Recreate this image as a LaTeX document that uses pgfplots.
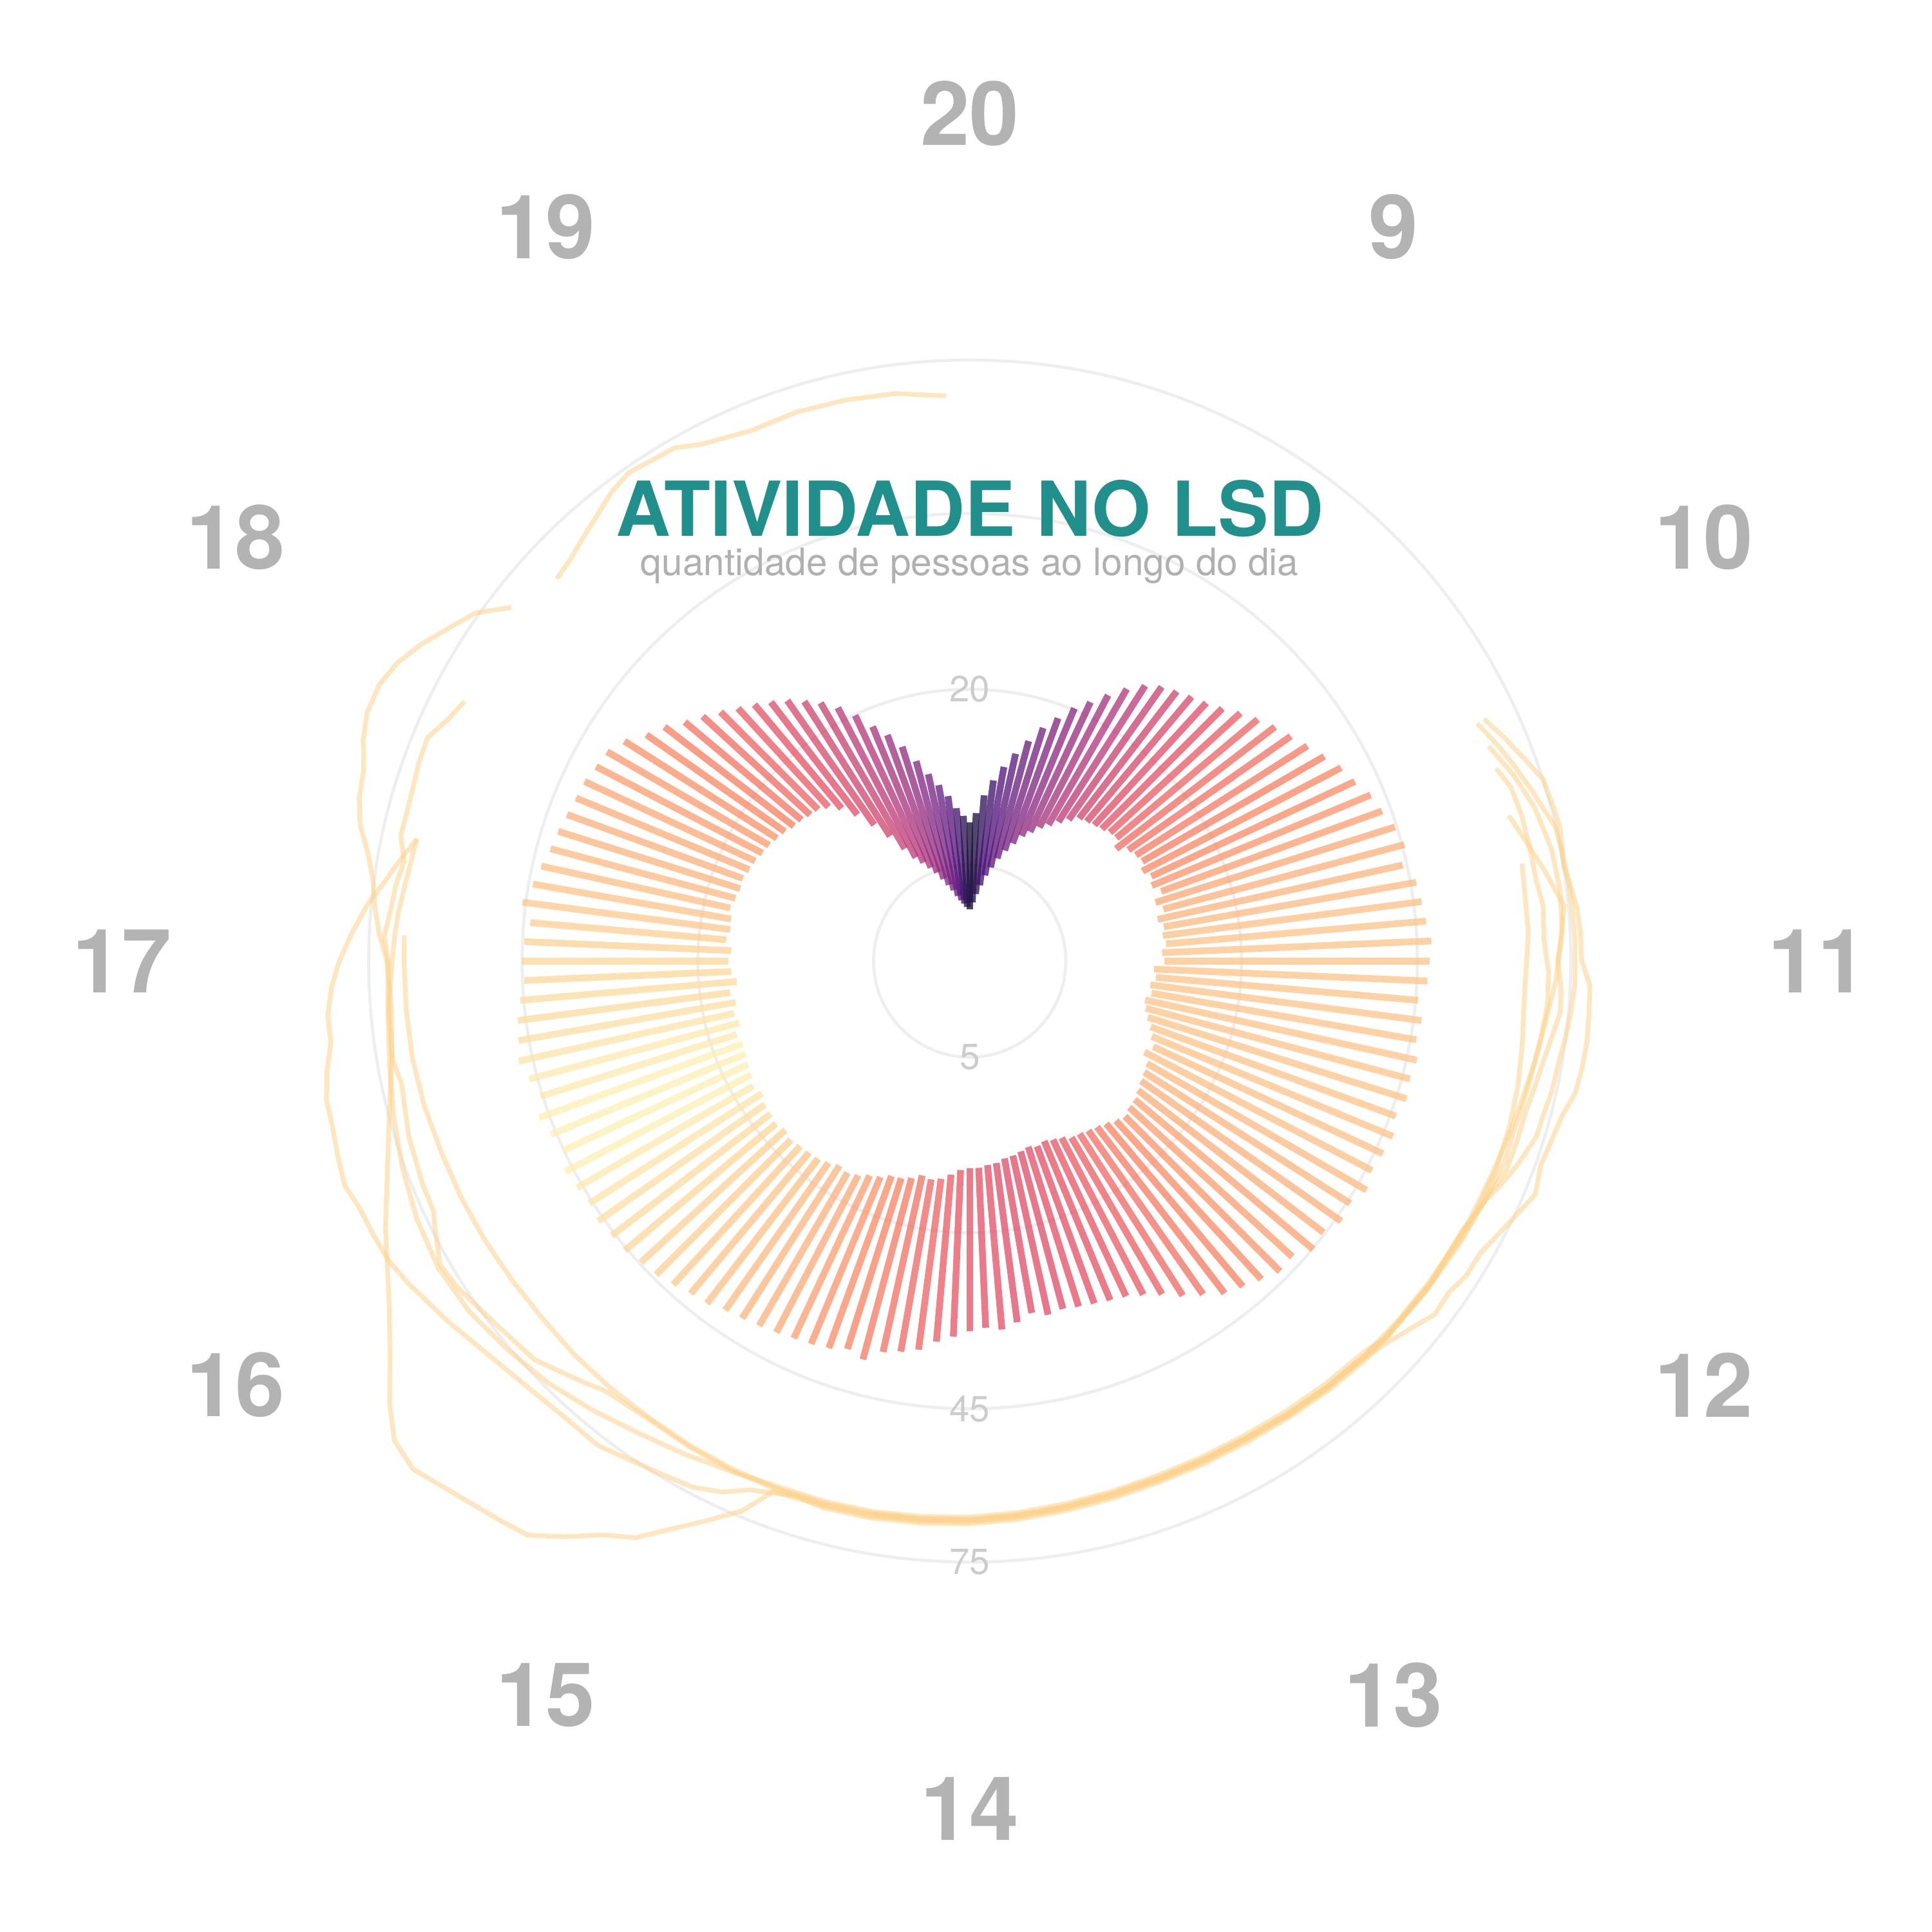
\documentclass[border=0pt]{standalone}
\usepackage{pgfplots}
\pgfplotsset{compat=1.18}
\usepackage{pgfplotstable}
\usepackage{fontspec}
\setmainfont{TeX Gyre Heros}
\definecolor{gridc}{RGB}{238,238,238}
\definecolor{hourc}{RGB}{179,179,179}
\definecolor{radc}{RGB}{204,204,204}
\definecolor{titlec}{RGB}{33,144,140}
\definecolor{subc}{RGB}{176,176,176}
\definecolor{linec}{RGB}{252,210,140}

% bars: t = minutes since midnight, lo/hi = range of people, c = colour value
\pgfplotstableread{
t lo hi c
480 2.8 7.7 0.08
485 3.1 8.4 0.12
490 3.5 9.8 0.17
495 3.95 11.1 0.21
500 4.5 12.4 0.25
505 5.0 13.8 0.28
510 5.6 15.3 0.31
515 6.2 17.0 0.34
520 6.8 18.5 0.37
525 7.5 20.2 0.40
530 8.0 21.6 0.43
535 8.6 23.3 0.46
540 9.1 25.1 0.49
545 9.7 26.7 0.52
550 10.3 27.8 0.55
555 10.9 28.5 0.57
560 11.1 29.2 0.59
565 11.3 29.9 0.61
570 11.5 30.9 0.63
575 11.8 32.3 0.65
580 11.9 33.6 0.67
585 11.3 34.9 0.69
590 12.1 36.0 0.70
595 12.4 37.3 0.72
600 12.6 38.7 0.73
605 12.2 40.2 0.75
610 12.7 41.2 0.76
615 12.4 42.7 0.78
620 13.0 43.5 0.80
625 12.2 44.7 0.82
630 12.7 45.4 0.84
635 12.0 44.3 0.85
640 12.4 46.0 0.86
645 12.2 46.4 0.87
650 12.4 46.8 0.88
655 12.0 47.5 0.88
660 12.2 47.1 0.88
665 11.3 46.8 0.88
670 11.5 45.4 0.88
675 11.1 46.4 0.88
680 11.3 46.0 0.88
685 10.9 46.8 0.88
690 11.1 46.4 0.88
695 11.5 46.8 0.88
700 12.0 46.0 0.88
705 12.4 46.8 0.88
710 12.9 46.4 0.87
715 12.4 46.0 0.87
720 13.1 46.8 0.86
725 13.3 45.6 0.85
730 13.5 46.0 0.84
735 13.8 44.7 0.83
740 14.1 45.1 0.81
745 14.2 43.3 0.80
750 14.5 43.5 0.78
755 14.2 42.3 0.76
760 13.8 41.2 0.74
765 13.5 40.2 0.72
770 13.3 38.3 0.70
775 13.1 36.7 0.68
780 13.0 34.9 0.66
785 12.6 33.6 0.65
790 12.4 32.7 0.64
795 12.2 32.3 0.63
800 12.4 31.9 0.62
805 12.2 31.6 0.62
810 12.4 31.3 0.61
815 12.6 31.6 0.61
820 12.7 30.9 0.61
825 13.0 31.9 0.61
830 13.1 32.7 0.62
835 13.3 32.3 0.62
840 13.3 32.7 0.63
845 13.5 33.6 0.64
850 14.0 34.5 0.65
855 14.5 36.0 0.67
860 14.7 36.7 0.68
865 14.5 37.3 0.70
870 15.0 39.2 0.72
875 15.3 38.3 0.74
880 15.4 39.1 0.76
885 15.9 39.5 0.78
890 16.2 39.8 0.80
895 16.7 40.2 0.82
900 17.0 40.6 0.84
905 16.8 41.0 0.85
910 17.2 41.4 0.86
915 17.5 42.3 0.87
920 17.6 42.7 0.88
925 17.7 43.5 0.89
930 17.9 44.3 0.90
935 17.6 44.7 0.91
940 17.9 45.4 0.92
945 17.7 45.6 0.93
950 17.6 46.0 0.94
955 17.2 45.6 0.95
960 17.6 46.0 0.96
965 17.2 46.4 0.97
970 17.0 45.1 0.97
975 16.8 46.0 0.97
980 16.7 46.8 0.97
985 17.0 45.4 0.96
990 16.4 46.4 0.96
995 16.7 47.5 0.95
1000 16.3 46.8 0.94
1005 16.7 46.4 0.93
1010 15.9 45.6 0.93
1015 16.4 44.7 0.92
1020 16.7 45.1 0.92
1025 16.4 44.7 0.91
1030 17.0 43.9 0.90
1035 16.7 45.6 0.89
1040 16.8 44.3 0.88
1045 17.1 43.5 0.87
1050 16.8 42.7 0.86
1055 16.6 42.3 0.85
1060 16.7 41.8 0.84
1065 16.4 41.4 0.83
1070 16.2 41.2 0.82
1075 15.9 40.6 0.80
1080 15.7 40.2 0.79
1085 15.4 38.7 0.77
1090 15.1 36.4 0.75
1095 14.7 34.9 0.73
1100 14.5 33.0 0.71
1105 14.2 31.6 0.69
1110 14.0 30.2 0.67
1115 13.5 28.9 0.65
1120 12.6 27.8 0.63
1125 11.3 26.7 0.61
1130 9.8 25.6 0.59
1135 8.4 24.3 0.57
1140 7.1 23.1 0.55
1145 6.25 21.6 0.52
1150 5.75 19.9 0.50
1155 5.3 18.0 0.47
1160 4.9 16.6 0.44
1165 4.46 15.0 0.41
1170 4.08 13.3 0.38
1175 3.76 11.9 0.35
1180 3.45 10.8 0.31
1185 3.23 9.8 0.27
1190 3.06 8.8 0.22
1195 2.9 8.2 0.15
}\bars

\pgfplotstableread{
t v
609.6 68.0
614.8 70.4
619.8 72.6
624.8 75.1
630.6 75.6
634.6 75.9
641.6 75.1
647.4 76.3
650 76.9
654.8 77.3
659.8 77.4
664.6 79.4
670.4 79.6
675 79.8
679.6 79.6
684.6 79.2
689.2 77.5
699.4 76.2
704.8 77.4
710.6 75.1
719.6 72.2
724.8 72.1
729.2 71.0
734.4 71.3
744.8 67.4
750 66.2
760 65.7
770 65.2
780 64.8
790 64.7
800 64.7
810 65.0
820 65.4
830 65.9
840 66.4
850 66.7
860 67.0
870 67.1
880.6 67.4
885 73.7
890.4 78.9
895 83.7
900.2 90.1
905.2 93.7
910.2 99.3
915.2 104.7
920.4 106.3
930 109.8
935.2 112.4
940.4 111.1
945.4 105.9
951.6 98.6
958.6 92.2
971 84.3
978.4 80.0
987 76.1
1000.6 71.8
1010.2 70.5
1020 71.0
1025.2 72.8
1030.4 74.2
1035 75.1
1040.2 77.2
1045.2 80.3
1050.2 82.0
1055.2 82.8
1060 85.1
1064.8 86.6
1070.2 86.6
1075 85.1
1080 82.3
1086 78.3
1090.4 75.7
1095.3 70.2
}\dayA

\pgfplotstableread{
t v
609.8 66.3
615.8 68.5
620.2 70.0
626.4 72.1
630 73.3
634.4 75.0
639.4 75.3
645 75.7
649.6 75.8
655.8 76.0
664.4 76.0
669.8 75.5
674.6 74.9
680 74.2
685.2 74.0
690.2 73.4
694.4 73.3
700.8 71.4
705.8 69.6
709.8 68.0
717.4 66.5
730 66.8
744 66.6
750 66.6
760 66.1
770 65.6
780 65.2
790 65.1
800 65.1
810 65.4
820 65.8
830 66.3
840 66.8
850 67.1
860 67.4
870 67.5
876 66.7
885.2 68.9
890 71.7
895.6 73.6
903 74.6
915 77.1
925 77.1
936 78.5
950.6 82.4
960.4 85.6
965.6 87.1
970.4 87.6
975.8 88.1
980.4 89.5
985.6 88.9
990.6 88.2
995.6 88.1
1000.2 86.8
1005.4 84.8
1010.4 84.8
1015.4 83.5
1019.8 81.7
1025 79.0
1030.8 75.8
1035.4 72.7
1039.4 70.5
1044.9 67.5
}\dayB

\pgfplotstableread{
t v
615 66.6
622.2 69.3
629.6 71.6
638.2 73.1
646.2 73.6
654.2 73.3
659.8 72.2
665.2 73.0
670 73.2
675 71.9
680 70.9
685.2 70.2
690.2 69.6
696.2 69.6
702.4 69.6
708.8 68.0
719.8 67.4
732 66.9
744 66.5
750 65.2
760 64.7
770 64.2
780 63.8
790 63.7
800 63.7
810 64.0
820 64.4
830 64.9
840 65.4
850 65.7
860 66.0
870 66.1
880 66.1
890 66.9
900 68.2
910 69.7
920 71.8
930 74.0
940 75.6
950 77.2
960 77.8
970 77.0
980 75.6
990 74.0
1000 72.4
1010 71.3
1020 70.8
1025 71.7
1030 70.7
1035 70.2
1040 69.2
1045 71.0
1049.6 70.9
1054.6 71.1
1059.6 71.6
1064.8 71.8
1069.6 69.4
1074.4 67.9
}\dayC

\pgfplotstableread{
t v
619.8 66.35
624.4 68.0
630.6 68.5
637.4 68.6
644 68.8
649 69.6
655.6 69.3
662.2 70.2
668.6 70.3
675.2 69.7
683.8 68.9
689.8 68.6
695 68.3
701 68.6
710 67.9
720 67.1
732 66.8
744 66.5
750 65.9
760 65.4
770 64.9
780 64.5
790 64.4
800 64.4
810 64.7
820 65.1
830 65.6
840 66.1
850 66.4
860 66.7
870 66.8
880 66.8
890 66.7
900 66.4
910 66.1
920.4 66.9
925 68.6
935 72.6
945 74.1
955 76.4
960.4 77.1
967.8 73.9
970 72.9
975.2 72.8
985.2 72.1
995.6 70.7
1000.8 71.6
1010.4 71.1
1019 70.0
1025 69.5
1030 69.0
1035 68.3
1040.2 67.8
1044.9 67.5
}\dayD

\pgfplotstableread{
t v
640 66.4
654 66.1
669 65.4
677.4 66.0
685.8 66.7
694.4 67.2
703.2 67.5
712.4 67.3
720.2 66.6
730.4 66.35
740 66.1
750 65.8
760 65.3
770 64.8
780 64.3
790 64.1
800 64.1
810 64.3
820 64.8
830 65.3
840 65.8
850 66.1
860 66.35
870 66.5
880 66.5
890 66.35
900 66.1
910 65.8
920 65.8
930 65.8
940 65.6
950 65.8
960 66.1
970 66.4
980 66.6
990 67.1
1000 67.4
1010 67.4
1020 67.4
1025.2 67.5
}\dayE

\pgfplotstableread{
t v
1105.6 66.8
1110.4 67.6
1115.4 69.1
1120.4 70.7
1125.2 72.6
1130.2 73.8
1140.2 73.0
1145.2 70.9
1155.2 69.1
1165 69.5
1175.2 69.3
1185.2 68.8
1195.2 67.4
}\dayF

\pgfplotstableread{
t v
629.8 65.9
636 68.2
642 70.8
649.4 74.1
656 72.9
664 71.8
672 70.2
680 69.2
688 68.2
696 67.6
704 67.1
716 66.9
730 66.6
744 66.3
750 66.0
760 65.5
770 65.0
780 64.6
790 64.4
800 64.4
810 64.6
820 65.0
830 65.5
840 66.0
850 66.3
860 66.5
}\dayG

\pgfplotsset{
  dayline/.style={no marks, color=linec, line width=1.1pt, opacity=0.55, line join=round},
}
\tikzset{
  hourlab/.style={font=\fontsize{20.5}{24}\selectfont\bfseries, text=hourc, inner sep=0},
  radlab/.style={font=\fontsize{8.4}{10}\selectfont, text=radc, inner sep=0},
}
\newcommand{\dayplot}[1]{%
  \addplot[dayline] table[
    x expr={63.8*(sqrt(\thisrow{v})-1.014)*sin(0.5*(\thisrow{t}-480))},
    y expr={63.8*(sqrt(\thisrow{v})-1.014)*cos(0.5*(\thisrow{t}-480))},
  ] {#1};
}

\begin{document}
\begin{tikzpicture}
\begin{axis}[
  width=156.8mm, height=156.8mm, scale only axis,
  xmin=-787, xmax=781, ymin=-788, ymax=780,
  hide axis, clip=false,
  colormap={magma}{rgb255=(0,0,4) rgb255=(28,16,68) rgb255=(79,18,123) rgb255=(129,37,129) rgb255=(181,54,122) rgb255=(229,80,100) rgb255=(251,135,97) rgb255=(254,194,135) rgb255=(252,253,191)},
  point meta min=0, point meta max=1,
]
\path (axis cs:-787,-788) rectangle (axis cs:781,780);
% grid circles (5, 20, 45, 75)
\draw[gridc, line width=0.7pt] (axis cs:0,0) circle[radius=7.8mm];
\draw[gridc, line width=0.7pt] (axis cs:0,0) circle[radius=22.06mm];
\draw[gridc, line width=0.7pt] (axis cs:0,0) circle[radius=36.33mm];
\draw[gridc, line width=0.7pt] (axis cs:0,0) circle[radius=48.78mm];

% bars
\addplot[
  point meta=\thisrow{c},
  quiver={
    u={63.8*(sqrt(\thisrow{hi})-sqrt(\thisrow{lo}))*sin(0.5*(\thisrow{t}-480))},
    v={63.8*(sqrt(\thisrow{hi})-sqrt(\thisrow{lo}))*cos(0.5*(\thisrow{t}-480))},
    colored=mapped color,
    every arrow/.append style={-, line width=1.56pt, line cap=butt, draw opacity=0.76},
  },
] table[
  x expr={63.8*(sqrt(\thisrow{lo})-1.014)*sin(0.5*(\thisrow{t}-480))},
  y expr={63.8*(sqrt(\thisrow{lo})-1.014)*cos(0.5*(\thisrow{t}-480))},
] {\bars};

% day lines
\dayplot{\dayA}
\dayplot{\dayB}
\dayplot{\dayC}
\dayplot{\dayD}
\dayplot{\dayE}
\dayplot{\dayF}
\dayplot{\dayG}

% radial labels
\node[radlab] at (axis cs:0,-78) {5};
\node[radlab] at (axis cs:0,220.6) {20};
\node[radlab] at (axis cs:0,-363.3) {45};
\node[radlab] at (axis cs:0,-487.8) {75};

% hour labels
\node[hourlab] at (axis cs:0,688) {20};
\node[hourlab] at (axis cs:344,595.8) {9};
\node[hourlab] at (axis cs:595.8,344) {10};
\node[hourlab] at (axis cs:688,0) {11};
\node[hourlab] at (axis cs:595.8,-344) {12};
\node[hourlab] at (axis cs:344,-595.8) {13};
\node[hourlab] at (axis cs:0,-688) {14};
\node[hourlab] at (axis cs:-344,-595.8) {15};
\node[hourlab] at (axis cs:-595.8,-344) {16};
\node[hourlab] at (axis cs:-688,0) {17};
\node[hourlab] at (axis cs:-595.8,344) {18};
\node[hourlab] at (axis cs:-344,595.8) {19};

% title
\node[anchor=base, font=\fontsize{17.5}{20}\selectfont\bfseries, text=titlec, inner sep=0] at (axis cs:0,345) {ATIVIDADE NO LSD};
\node[anchor=base, font=\fontsize{8.7}{10}\selectfont, text=subc, inner sep=0] at (axis cs:0,313) {quantidade de pessoas ao longo do dia};
\end{axis}
\end{tikzpicture}
\end{document}
